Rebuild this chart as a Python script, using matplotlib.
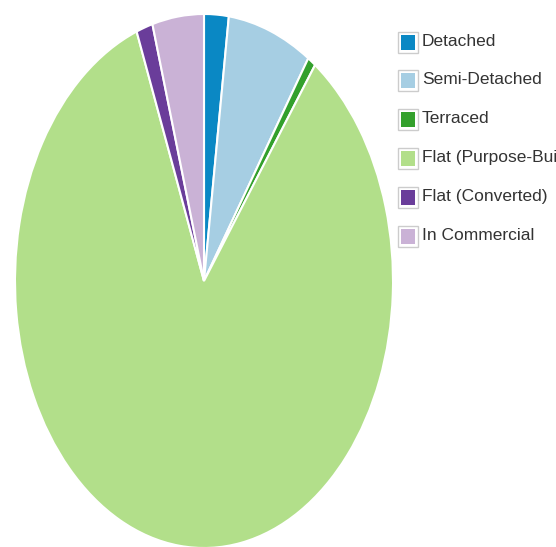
import matplotlib
matplotlib.use("Agg")
import matplotlib.pyplot as plt
from matplotlib.patches import Rectangle
from matplotlib import font_manager

categories = ["Detached", "Semi-Detached", "Terraced", "Flat (Purpose-Built)",
              "Flat (Converted)", "In Commercial"]
values = [2.1, 7.2, 0.7, 84.2, 1.4, 4.4]
colors = ["#0a88c4", "#a6cee3", "#33a02c", "#b2df8a", "#6a3d9a", "#cab2d6"]

names = {f.name for f in font_manager.fontManager.ttflist}
fam = "Liberation Sans Narrow" if "Liberation Sans Narrow" in names else "Liberation Sans"

W, H = 556, 547
fig = plt.figure(figsize=(W / 100, H / 100), dpi=100)
cx, cy, rx, ry = 204, 281, 189, 267
ax = fig.add_axes([(cx - rx) / W, (H - (cy + ry)) / H, 2 * rx / W, 2 * ry / H])
ax.pie(values, colors=colors, startangle=90, counterclock=False, radius=1,
       wedgeprops=dict(edgecolor="white", linewidth=1.5))
ax.set_aspect("auto")
ax.set_xlim(-1, 1)
ax.set_ylim(-1, 1)
ax.axis("off")

y0, dy = 42, 38.8
for i, (lab, col) in enumerate(zip(categories, colors)):
    yc = y0 + i * dy
    fig.patches.append(Rectangle(((398) / W, (H - yc - 10.5) / H), 20 / W, 21 / H,
                                 transform=fig.transFigure, facecolor="white",
                                 edgecolor="#cccccc", linewidth=1))
    fig.patches.append(Rectangle(((401) / W, (H - yc - 7.5) / H), 14 / W, 15 / H,
                                 transform=fig.transFigure, facecolor=col,
                                 edgecolor="none"))
    fig.text(422 / W, (H - yc + 1) / H, lab, fontsize=12.5, family=fam,
             color="#333333", va="center", ha="left")

fig.savefig("out.png", dpi=100)
